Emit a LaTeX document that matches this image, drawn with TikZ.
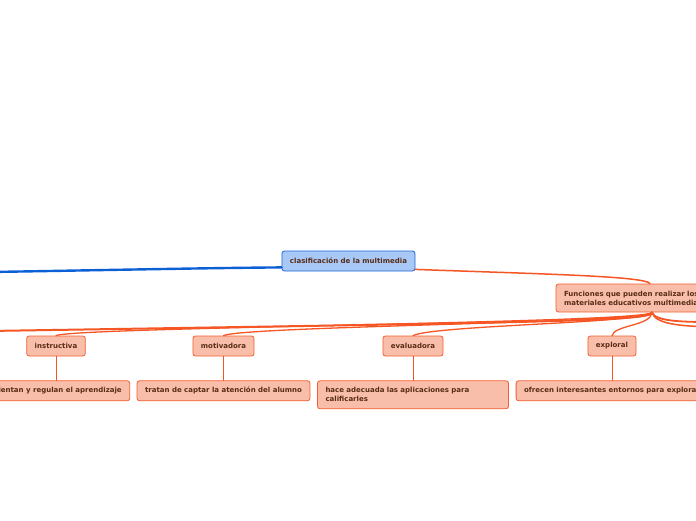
\documentclass[tikz,border=0pt]{standalone}
\usepackage{fontspec}
\setmainfont{DejaVu Sans}
\usepackage{tikz}
\usetikzlibrary{positioning}
\definecolor{rootBlue}{RGB}{168,201,248}
\definecolor{rootEdge}{RGB}{30,100,210}
\definecolor{linkBlue}{RGB}{12,96,214}
\definecolor{topicFill}{RGB}{249,190,170}
\definecolor{topicEdge}{RGB}{242,95,50}
\definecolor{linkOrange}{RGB}{246,86,36}
\definecolor{labelBrown}{RGB}{88,44,20}

\begin{document}
\begin{tikzpicture}[x=1pt,y=-1pt,
    box/.style={rounded corners=2.5pt, line width=0.8pt, text=labelBrown,
        font=\fontsize{7}{9}\selectfont\bfseries, minimum height=20pt,
        inner xsep=8pt, inner ysep=3pt},
    topic/.style={box, draw=topicEdge, fill=topicFill},
    link/.style={draw=linkOrange, line width=1.3pt, line cap=round}]
    \useasboundingbox (0,0) rectangle (696,520);

    % central idea
    \node[box, draw=rootEdge, fill=rootBlue] (root) at (348.5,261) {clasificación de la multimedia};
    \node[topic, text width=150pt, align=left, minimum height=28pt] (funciones) at (639,298)
        {Funciones que pueden realizar los\\materiales educativos multimedia};

    % kinds of function
    \node[topic] (instructiva) at (56,346) {instructiva};
    \node[topic] (motivadora) at (223.5,346) {motivadora};
    \node[topic] (evaluadora) at (413,346) {evaluadora};
    \node[topic] (exploral) at (612,346) {exploral};

    \node[topic, below=24pt of instructiva] (orientan) {orientan y regulan el aprendizaje};
    \node[topic, below=24pt of motivadora] (tratan) {tratan de captar la atención del alumno};
    \node[topic, below=24pt of evaluadora, text width=175pt, align=left, minimum height=28pt] (hace)
        {hace adecuada las aplicaciones para\\calificarles};
    \node[topic, below=24pt of exploral] (ofrecen) {ofrecen interesantes entornos para explorar};

    % branches leaving the view
    \coordinate (offLeft) at (-12,272);
    \coordinate (sideLeft) at (-12,331);
    \coordinate (sideRightA) at (710,322);
    \coordinate (sideRightB) at (710,327);
    \coordinate (hub) at ([xshift=13pt]funciones.south);

    \draw[draw=linkBlue, line width=2.4pt, line cap=round] ([yshift=4pt]root.south west)
        .. controls (200,268) and (60,271) .. (offLeft);
    \draw[link, line width=1.5pt] ([yshift=2pt]root.south east)
        .. controls (540,274) and (645,276) .. ([xshift=11pt]funciones.north);

    \draw[link, line width=2pt] (hub) .. controls (652,321) and (560,322) .. (sideLeft);
    \draw[link] (hub) .. controls (650,323) and (75,327) .. (instructiva.north);
    \draw[link] (hub) .. controls (650,323) and (245,326) .. (motivadora.north);
    \draw[link] (hub) .. controls (650,323) and (435,325) .. (evaluadora.north);
    \draw[link] (hub) .. controls (651,326) and (614,325) .. (exploral.north);
    \draw[link, line width=1.8pt] (hub) .. controls (655,321) and (680,322) .. (sideRightA);
    \draw[link, line width=1.5pt] (hub) .. controls (655,324) and (680,326) .. (sideRightB);

    \draw[link, line width=1pt] (instructiva) -- (orientan);
    \draw[link, line width=1pt] (motivadora) -- (tratan);
    \draw[link, line width=1pt] (evaluadora) -- (hace);
    \draw[link, line width=1pt] (exploral) -- (ofrecen);
\end{tikzpicture}
\end{document}
